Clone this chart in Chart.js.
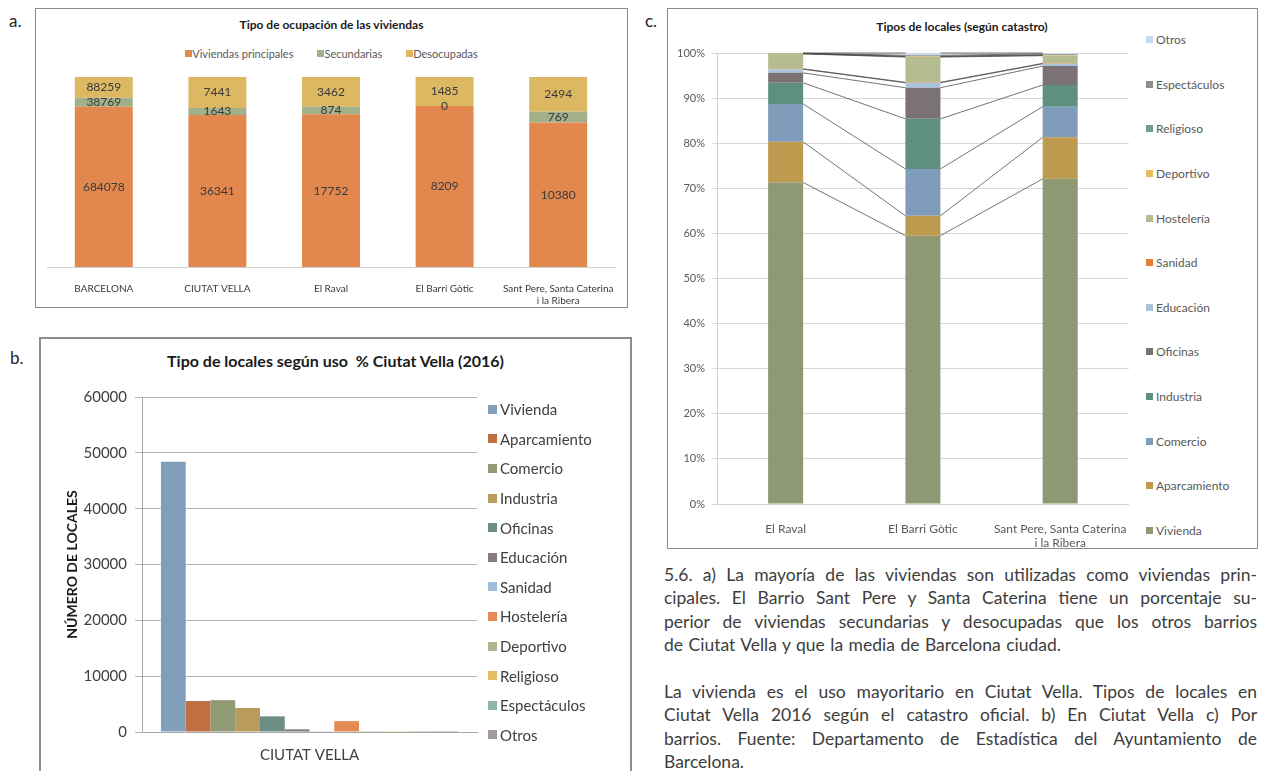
<!DOCTYPE html>
<html>
<head>
<meta charset="utf-8">
<script src="https://cdn.jsdelivr.net/npm/chart.js@4.4.0/dist/chart.umd.min.js"></script>
<style>
body { margin: 0; width: 1261px; height: 771px; overflow: hidden; background: #fff; font-family: Lato, "Open Sans", sans-serif; position: relative; color: #404040; }
.abs { position: absolute; }
.box { position: absolute; box-sizing: border-box; border: 1px solid #8c8c8c; }
.tag { position: absolute; font-size: 17px; color: #222; }
.title { position: absolute; font-weight: bold; text-align: center; color: #1a1a1a; white-space: nowrap; }
.leg { position: absolute; display: flex; align-items: center; white-space: nowrap; }
.leg span.sq { display: inline-block; margin-right: 3px; }
.txt { position: absolute; left: 664px; width: 593px; font-size: 17.5px; line-height: 23.4px; color: #3d3d3d; word-spacing: -1px; }
.txt div { text-align: justify; text-align-last: justify; height: 23.4px; white-space: nowrap; }
.txt div.last { text-align-last: left; word-spacing: 1px; }
canvas { position: absolute; }
</style>
</head>
<body>

<div class="tag" style="left:9px;top:10px;">a.</div>
<div class="box" style="left:35px;top:8px;width:593px;height:300px;"></div>
<div class="title" style="left:35px;top:17px;width:593px;font-size:12px;">Tipo de ocupación de las viviendas</div>
<div id="legA" class="abs" style="left:35px;top:46px;width:593px;height:14px;display:flex;justify-content:center;gap:24px;font-size:11px;color:#595959;"></div>
<canvas id="chartA" width="592" height="300" style="left:35px;top:8px;"></canvas>

<div class="tag" style="left:10px;top:347px;">b.</div>
<div class="box" style="left:39px;top:337px;width:593px;height:500px;border:2px solid #8c8c8c;"></div>
<div class="title" style="left:39px;top:351px;width:593px;font-size:16px;">Tipo de locales según uso &nbsp;% Ciutat Vella (2016)</div>
<canvas id="chartB" width="591" height="391" style="left:40px;top:380px;"></canvas>
<div id="legB"></div>

<div class="tag" style="left:645px;top:10px;">c.</div>
<div class="box" style="left:667px;top:8px;width:591px;height:541px;"></div>
<div class="title" style="left:865px;top:19px;width:194px;font-size:12px;">Tipos de locales (según catastro)</div>
<canvas id="chartC" width="470" height="513" style="left:668px;top:35px;"></canvas>
<div id="legC"></div>

<div class="txt" style="top:563px;">
  <div>5.6. a) La mayoría de las viviendas son utilizadas como viviendas prin-</div>
  <div>cipales. El Barrio Sant Pere y Santa Caterina tiene un porcentaje su-</div>
  <div>perior de viviendas secundarias y desocupadas que los otros barrios</div>
  <div class="last">de Ciutat Vella y que la media de Barcelona ciudad.</div>
  <div class="last"></div>
  <div>La vivienda es el uso mayoritario en Ciutat Vella. Tipos de locales en</div>
  <div>Ciutat Vella 2016 según el catastro oficial. b) En Ciutat Vella c) Por</div>
  <div>barrios. Fuente: Departamento de Estadística del Ayuntamiento de</div>
  <div class="last">Barcelona.</div>
</div>

<script>
// a) Tipo de ocupación de las viviendas
const zonasA = ['BARCELONA', 'CIUTAT VELLA', 'El Raval', 'El Barri Gòtic', ['Sant Pere, Santa Caterina', 'i la Ribera']];
const principales = [684078, 36341, 17752, 8209, 10380];
const secundarias = [38769, 1643, 874, 0, 769];
const desocupadas = [88259, 7441, 3462, 1485, 2494];

// b) locales según uso, Ciutat Vella 2016
const usos = ['Vivienda', 'Aparcamiento', 'Comercio', 'Industria', 'Oficinas', 'Educación', 'Sanidad', 'Hostelería', 'Deportivo', 'Religioso', 'Espectáculos', 'Otros'];
const localesCV = [48400, 5550, 5700, 4300, 2800, 480, 30, 1950, 20, 20, 10, 180];
const ticksB = [0, 10000, 20000, 30000, 40000, 50000, 60000];

// c) % de locales por barrio (mismo orden que usos)
const barriosC = ['El Raval', 'El Barri Gòtic', ['Sant Pere, Santa Caterina', 'i la Ribera']];
const raval = [71.3, 9.0, 8.4, 4.7, 2.2, 0.8, 0.1, 3.3, 0.05, 0.05, 0.05, 0.05];
const gotic = [59.5, 4.4, 10.4, 11.1, 6.9, 1.1, 0.1, 5.6, 0.1, 0.1, 0.2, 0.5];
const santPere = [72.1, 9.2, 6.8, 4.8, 4.2, 0.5, 0.1, 1.7, 0.1, 0.1, 0.2, 0.2];

const coloresA = ['#e2884f', '#a2b08a', '#dcb863'];
const coloresB = ['#819fba', '#bf6f42', '#909a74', '#b99b5b', '#6b8e85', '#857c7e', '#a0bedb', '#e58a55', '#aeb68e', '#e2bd66', '#8db5a9', '#a39b9c'];
const coloresC = ['#8e9872', '#be9a4e', '#7f9dba', '#5f8f7d', '#7a7274', '#a9c3dc', '#e97b3b', '#b5bc8f', '#e9bd55', '#6fa08d', '#8c8c8c', '#c6dbef'];

Chart.defaults.font.family = 'Lato, "Open Sans", sans-serif';
Chart.defaults.animation = false;

// ---- legends (html) ----
function square(color, size) {
    return '<span class="sq" style="width:' + size + 'px;height:' + size + 'px;background:' + color + '"></span>';
}

const legA = document.getElementById('legA');
['Viviendas principales', 'Secundarias', 'Desocupadas'].forEach((name, i) => {
    legA.innerHTML += '<span style="display:flex;align-items:center">' + square(coloresA[i], 7) + name + '</span>';
});

function verticalLegend(el, names, colors, left, firstY, step, size, fontSize, color) {
    names.forEach((name, i) => {
        const d = document.createElement('div');
        d.className = 'leg';
        d.style.left = left + 'px';
        d.style.top = (firstY + i * step - fontSize * 0.65) + 'px';
        d.style.fontSize = fontSize + 'px';
        d.style.color = color;
        d.innerHTML = square(colors[i], size) + name;
        el.appendChild(d);
    });
}
verticalLegend(document.getElementById('legB'), usos, coloresB, 488, 410, 29.6, 9, 15, '#404040');
verticalLegend(document.getElementById('legC'), usos.slice().reverse(), coloresC.slice().reverse(), 1146, 40, 44.6, 7, 12, '#595959');

// ---- a) 100% stacked ----
const seriesA = [principales, secundarias, desocupadas];
const totalesA = principales.map((v, j) => v + secundarias[j] + desocupadas[j]);

const valoresA = {
    id: 'valoresA',
    afterDatasetsDraw(chart) {
        const ctx = chart.ctx;
        ctx.save();
        ctx.font = '12px Lato, sans-serif';
        ctx.fillStyle = '#3a3a3a';
        ctx.textAlign = 'center';
        ctx.textBaseline = 'middle';
        chart.data.datasets.forEach((ds, i) => {
            chart.getDatasetMeta(i).data.forEach((bar, j) => {
                ctx.fillText(String(seriesA[i][j]), bar.x, (bar.y + bar.base) / 2);
            });
        });
        ctx.restore();
    }
};

new Chart(document.getElementById('chartA'), {
    type: 'bar',
    data: {
        labels: zonasA,
        datasets: ['Viviendas principales', 'Secundarias', 'Desocupadas'].map((name, i) => ({
            label: name,
            data: seriesA[i].map((v, j) => v / totalesA[j] * 100),
            backgroundColor: coloresA[i],
            borderWidth: 0,
            barPercentage: 0.51,
            categoryPercentage: 1
        }))
    },
    options: {
        responsive: false,
        devicePixelRatio: 1,
        layout: { padding: { top: 69, left: 12, right: 12, bottom: 0 } },
        plugins: { legend: { display: false }, tooltip: { enabled: false } },
        scales: {
            x: {
                stacked: true,
                grid: { display: false },
                border: { color: '#d0d0d0' },
                ticks: { color: '#3a3a3a', font: { size: 10 }, padding: 8, maxRotation: 0, autoSkip: false },
                afterFit: s => { s.height = 41; }
            },
            y: { stacked: true, display: false, min: 0, max: 100 }
        }
    },
    plugins: [valoresA]
});

// ---- b) clustered bars ----
new Chart(document.getElementById('chartB'), {
    type: 'bar',
    data: {
        labels: ['CIUTAT VELLA'],
        datasets: usos.map((name, i) => ({
            label: name,
            data: [localesCV[i]],
            backgroundColor: coloresB[i],
            borderWidth: 0,
            barPercentage: 1,
            categoryPercentage: 0.887
        }))
    },
    options: {
        responsive: false,
        devicePixelRatio: 1,
        layout: { padding: { top: 12, left: 20, right: 154, bottom: 0 } },
        plugins: { legend: { display: false }, tooltip: { enabled: false } },
        scales: {
            x: {
                grid: { display: false },
                border: { color: '#a6a6a6' },
                ticks: { color: '#404040', font: { size: 15 }, padding: 6 },
                afterFit: s => { s.height = 39; }
            },
            y: {
                min: 0,
                max: 60000,
                afterBuildTicks: s => { s.ticks = ticksB.map(v => ({ value: v })); },
                grid: { color: '#b3b3b3', tickLength: 7 },
                border: { color: '#a6a6a6' },
                ticks: { color: '#404040', font: { size: 15 }, padding: 8, callback: v => String(v) },
                title: { display: true, text: 'NÚMERO DE LOCALES', color: '#1a1a1a', font: { size: 14, weight: 'bold' }, padding: { top: 4, bottom: 0 } },
                afterFit: s => { s.width = 82; }
            }
        }
    }
});

// ---- c) 100% stacked with series lines ----
const lineasSerie = {
    id: 'lineasSerie',
    afterDatasetsDraw(chart) {
        const ctx = chart.ctx;
        ctx.save();
        ctx.strokeStyle = 'rgba(70,70,70,0.75)';
        ctx.lineWidth = 1;
        chart.data.datasets.forEach((ds, i) => {
            const bars = chart.getDatasetMeta(i).data;
            for (let j = 0; j < bars.length - 1; j++) {
                const a = bars[j], b = bars[j + 1];
                ctx.beginPath();
                ctx.moveTo(a.x + a.width / 2, a.y);
                ctx.lineTo(b.x - b.width / 2, b.y);
                ctx.stroke();
            }
        });
        ctx.restore();
    }
};

new Chart(document.getElementById('chartC'), {
    type: 'bar',
    data: {
        labels: barriosC,
        datasets: usos.map((name, i) => ({
            label: name,
            data: [raval[i], gotic[i], santPere[i]],
            backgroundColor: coloresC[i],
            borderWidth: 0,
            barPercentage: 0.255,
            categoryPercentage: 1
        }))
    },
    options: {
        responsive: false,
        devicePixelRatio: 1,
        layout: { padding: { top: 18, left: 0, right: 9, bottom: 0 } },
        plugins: { legend: { display: false }, tooltip: { enabled: false } },
        scales: {
            x: {
                stacked: true,
                grid: { display: false },
                border: { color: '#d0d0d0' },
                ticks: { color: '#595959', font: { size: 12 }, padding: 10, maxRotation: 0, autoSkip: false },
                afterFit: s => { s.height = 44; }
            },
            y: {
                stacked: true,
                min: 0,
                max: 100,
                ticks: { stepSize: 10, color: '#595959', font: { size: 11 }, padding: 7, callback: v => v + '%' },
                grid: { color: '#d9d9d9', tickLength: 5 },
                border: { color: '#d0d0d0' },
                afterFit: s => { s.width = 49; }
            }
        }
    },
    plugins: [lineasSerie]
});
</script>
</body>
</html>
